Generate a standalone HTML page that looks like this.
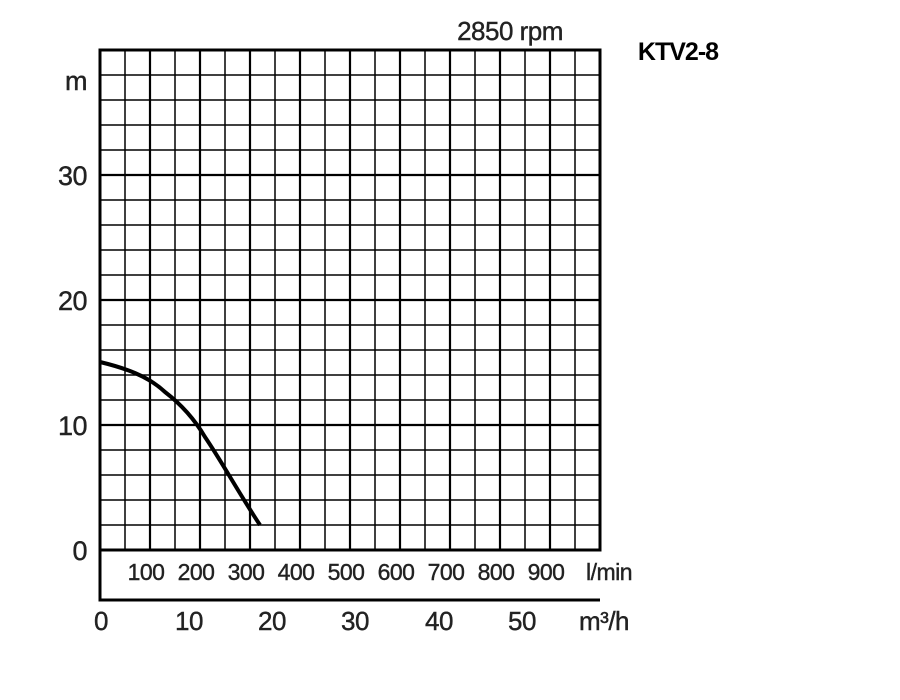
<!DOCTYPE html>
<html><head><style>body{margin:0;background:#fff}svg{display:block}</style></head><body>
<svg width="900" height="700" xmlns="http://www.w3.org/2000/svg" font-family="Liberation Sans, Arial, sans-serif">
<rect width="900" height="700" fill="#fff"/>
<g stroke="#000" stroke-width="1.5">
<path d="M125 50V550M175 50V550M225 50V550M275 50V550M325 50V550M375 50V550M425 50V550M475 50V550M525 50V550M575 50V550"/>
<path d="M100 75H600M100 100H600M100 125H600M100 150H600M100 200H600M100 225H600M100 250H600M100 275H600M100 325H600M100 350H600M100 375H600M100 400H600M100 450H600M100 475H600M100 500H600M100 525H600"/>
</g>
<g stroke="#000" stroke-width="2.2">
<path d="M150 50V550M200 50V550M250 50V550M300 50V550M350 50V550M400 50V550M450 50V550M500 50V550M550 50V550"/>
<path d="M100 175H600M100 300H600M100 425H600"/>
</g>
<rect x="100" y="50" width="500" height="500" fill="none" stroke="#000" stroke-width="3"/>
<path d="M100 550V600H600" fill="none" stroke="#000" stroke-width="3"/>
<path d="M100 362 C125 368 148 376 165 392 C182 405 195 420 205 437 C222 462 240 495 260 525" fill="none" stroke="#000" stroke-width="4"/>
<g font-size="27" fill="#222" text-anchor="end" letter-spacing="-0.5" stroke="#222" stroke-width="0.4">
<text x="87" y="90">m</text>
<text x="87" y="185">30</text>
<text x="87" y="310">20</text>
<text x="87" y="435">10</text>
<text x="87" y="560">0</text>
</g>
<g font-size="23" fill="#222" text-anchor="middle" letter-spacing="-0.5" stroke="#222" stroke-width="0.4">
<text x="146" y="580">100</text><text x="196" y="580">200</text><text x="246" y="580">300</text><text x="296" y="580">400</text><text x="346" y="580">500</text><text x="396" y="580">600</text><text x="446" y="580">700</text><text x="496" y="580">800</text><text x="546" y="580">900</text>
<text x="609" y="580">l/min</text>
</g>
<g font-size="26" fill="#222" text-anchor="middle" letter-spacing="-0.5" stroke="#222" stroke-width="0.4">
<text x="101" y="630">0</text><text x="189" y="630">10</text><text x="272" y="630">20</text><text x="355" y="630">30</text><text x="439" y="630">40</text><text x="522" y="630">50</text>
<text x="604" y="630">m³/h</text>
<text x="510" y="40">2850 rpm</text>
</g>
<text x="678" y="60" font-size="25" font-weight="bold" text-anchor="middle" letter-spacing="-1">KTV2-8</text>
</svg>
</body></html>
